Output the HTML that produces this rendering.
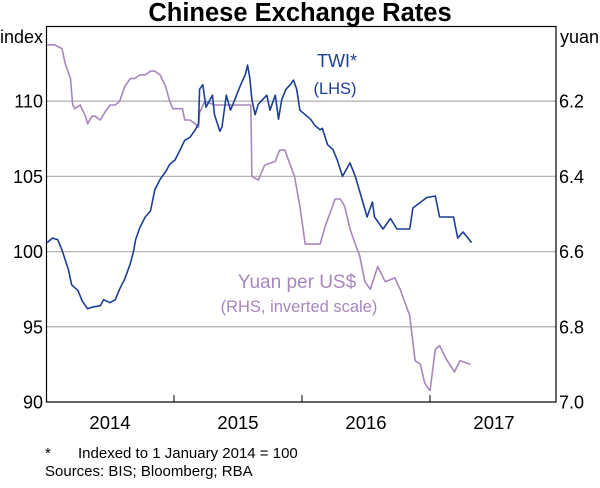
<!DOCTYPE html>
<html><head><meta charset="utf-8"><style>
body{margin:0;background:#fff;font-family:"Liberation Sans",Arial,sans-serif}
svg text{font-family:"Liberation Sans",Arial,sans-serif}
</style></head><body>
<svg id="chart" width="600" height="483" viewBox="0 0 600 483" xmlns="http://www.w3.org/2000/svg">
<text x="300" y="21" text-anchor="middle" font-size="25.5" font-weight="bold">Chinese Exchange Rates</text>
<g id="grid"></g>
<rect x="46.5" y="26.5" width="509.5" height="375.5" fill="none" stroke="#000" stroke-width="1.2"/>
<g id="ticks"></g>
<g id="series"></g>
<text x="43" y="43" text-anchor="end" font-size="18">index</text>
<text x="560" y="43" font-size="18">yuan</text>
<text x="337" y="67" text-anchor="middle" font-size="18" fill="#1c3f94">TWI*</text>
<text x="335" y="94" text-anchor="middle" font-size="16.5" fill="#1c3f94">(LHS)</text>
<text x="297" y="288" text-anchor="middle" font-size="19" fill="#a787be">Yuan per US$</text>
<text x="299" y="312" text-anchor="middle" font-size="16.5" fill="#a787be">(RHS, inverted scale)</text>
<text x="45" y="458" font-size="15">*</text>
<text x="78" y="458" font-size="15">Indexed to 1 January 2014 = 100</text>
<text x="45" y="476" font-size="15">Sources: BIS; Bloomberg; RBA</text>
</svg>
<script>
const leftTicks=[90,95,100,105,110];
const rightTicks=["6.2","6.4","6.6","6.8","7.0"];
const yearLabels=["2014","2015","2016","2017"];
const twiMonths=[0.1,0.6,1.1,1.5,2.1,2.4,3.0,3.4,3.9,4.3,5.1,5.4,6.0,6.5,6.9,7.4,7.9,8.2,8.4,8.8,9.3,9.8,10.2,10.7,11.2,11.6,12.1,12.6,13.0,13.5,14.0,14.3,14.4,14.7,15.0,15.6,15.8,16.3,16.5,16.9,17.3,17.7,18.2,18.7,18.9,19.1,19.3,19.6,19.9,20.3,20.7,21.0,21.5,21.8,22.1,22.5,22.9,23.2,23.5,23.8,24.3,24.8,25.2,25.7,25.9,26.4,26.9,27.3,27.8,28.5,29.0,29.7,30.1,30.6,30.8,31.6,32.3,32.9,34.1,34.4,35.7,36.5,36.9,38.2,38.6,39.1,39.9];
const twiValues=[100.6,100.9,100.8,100.1,98.8,97.8,97.4,96.7,96.2,96.3,96.4,96.8,96.6,96.8,97.5,98.2,99.2,100.0,100.8,101.6,102.3,102.7,104.1,104.8,105.3,105.8,106.1,106.8,107.4,107.6,108.1,108.5,110.8,111.1,109.6,110.4,109.1,108.0,108.3,110.4,109.4,110.1,111.0,111.8,112.4,111.6,110.1,109.1,109.8,110.1,110.4,109.4,110.4,108.8,110.1,110.8,111.1,111.4,110.8,109.4,109.1,108.8,108.4,108.1,108.2,107.1,106.8,106.1,105.0,105.9,105.0,103.3,102.3,103.3,102.3,101.5,102.2,101.5,101.5,102.9,103.6,103.7,102.3,102.3,100.9,101.3,100.6];
const yuanMonths=[0.1,0.8,1.5,1.8,2.3,2.5,2.7,3.2,3.7,3.9,4.3,4.6,5.1,5.5,6.0,6.5,6.9,7.4,7.9,8.3,8.8,9.3,9.8,10.2,10.7,11.2,11.6,11.9,12.4,12.8,13.0,13.5,14.0,14.3,14.4,14.9,15.8,18.2,19.2,19.3,19.9,20.5,21.5,21.9,22.4,22.9,23.3,23.8,24.3,25.2,25.7,26.2,26.6,27.1,27.6,28.0,28.5,29.0,29.4,29.9,30.4,31.1,31.8,32.7,33.2,34.1,34.6,35.1,35.5,36.0,36.5,36.9,37.6,38.3,38.8,39.8];
const yuanValues=[6.05,6.05,6.06,6.10,6.14,6.21,6.22,6.21,6.24,6.26,6.24,6.24,6.25,6.23,6.21,6.21,6.20,6.16,6.14,6.14,6.13,6.13,6.12,6.12,6.13,6.16,6.20,6.22,6.22,6.22,6.25,6.25,6.26,6.27,6.23,6.20,6.21,6.21,6.21,6.40,6.41,6.37,6.36,6.33,6.33,6.37,6.40,6.48,6.58,6.58,6.58,6.53,6.50,6.46,6.46,6.48,6.54,6.58,6.61,6.68,6.70,6.64,6.68,6.67,6.70,6.77,6.89,6.90,6.95,6.97,6.86,6.85,6.89,6.92,6.89,6.90];
const NS="http://www.w3.org/2000/svg";
const X0=46,PX_PER_MONTH=128/12,TOP=26,BOT=402;
const xs=m=>X0+m*PX_PER_MONTH;
const yL=v=>BOT-(v-90)/25*(BOT-TOP);
const yR=v=>TOP+(v-6.0)/1.0*(BOT-TOP);
function mk(tag,attrs,parent){const e=document.createElementNS(NS,tag);for(const k in attrs)e.setAttribute(k,attrs[k]);parent.appendChild(e);return e;}
const grid=document.getElementById('grid'),ticks=document.getElementById('ticks'),ser=document.getElementById('series');
leftTicks.forEach((v,i)=>{
  const y=yL(v);
  if(v>90){const g=mk('line',{x1:46,x2:556,y1:y,y2:y,stroke:'#b5b5b5','stroke-width':1.3},grid);
  
  }
  const t=mk('text',{x:43,y:y+6.5,'text-anchor':'end','font-size':18},ticks);t.textContent=v;
  
  
});
rightTicks.forEach(v=>{
  const y=yR(parseFloat(v));
  const t=mk('text',{x:559,y:y+6.5,'font-size':18},ticks);t.textContent=v;
  
  
});
yearLabels.forEach((v,i)=>{
  const t=mk('text',{x:xs(i*12+6),y:429,'text-anchor':'middle','font-size':18.5},ticks);t.textContent=v;
  
  
  if(i>0){const l=mk('line',{x1:xs(i*12),x2:xs(i*12),y1:BOT,y2:BOT-7,stroke:'#000','stroke-width':1},ticks);
  
  }
});
const yp=mk('polyline',{points:yuanMonths.map((m,i)=>xs(m).toFixed(1)+','+yR(yuanValues[i]).toFixed(1)).join(' '),fill:'none',stroke:'#a787be','stroke-width':1.6,'stroke-linejoin':'round'},ser);


const tp=mk('polyline',{points:twiMonths.map((m,i)=>xs(m).toFixed(1)+','+yL(twiValues[i]).toFixed(1)).join(' '),fill:'none',stroke:'#1c3f94','stroke-width':1.6,'stroke-linejoin':'round'},ser);


</script>
</body></html>
